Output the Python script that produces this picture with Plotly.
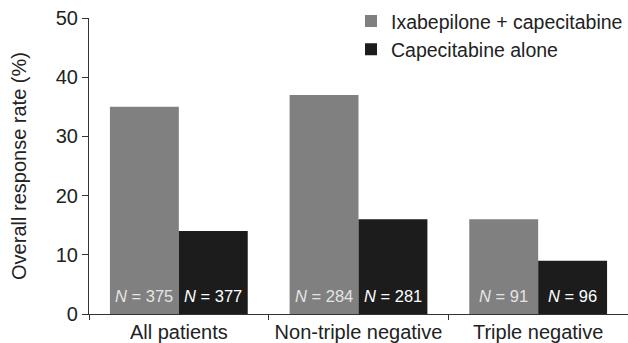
import plotly.graph_objects as go

categories = ["All patients", "Non-triple negative", "Triple negative"]
combo_vals = [35, 37, 16]
cape_vals = [14, 16, 9]
combo_n = [375, 284, 91]
cape_n = [377, 281, 96]
series_names = ["Ixabepilone + capecitabine", "Capecitabine alone"]
y_ticks = [0, 10, 20, 30, 40, 50]

FONT = "Liberation Sans, Arial, Helvetica, sans-serif"
TXT = "#222222"
fig = go.Figure()
fig.add_trace(go.Bar(x=categories, y=combo_vals, name=series_names[0],
                     marker=dict(color="#808080", line=dict(width=0))))
fig.add_trace(go.Bar(x=categories, y=cape_vals, name=series_names[1],
                     marker=dict(color="#1c1c1c", line=dict(width=0))))

W, L, R = 628, 89, 0
plot_w = W - L - R
cat_w = plot_w / len(categories)
bargap = 0.233
bar_w = cat_w * (1 - bargap) / 2

for i, c in enumerate(categories):
    for n, shift, col in ((combo_n[i], -bar_w / 2, "#e4e4e4"), (cape_n[i], bar_w / 2, "#ffffff")):
        fig.add_annotation(x=c, y=3.0, xref="x", yref="y", xshift=shift,
                           text=f"<i>N</i> = {n}", showarrow=False,
                           font=dict(size=16.5, color=col, family=FONT))

fig.update_layout(
    width=W, height=343,
    margin=dict(l=L, r=R, t=18, b=26),
    barmode="group", bargap=bargap, bargroupgap=0,
    plot_bgcolor="white", paper_bgcolor="white",
    font=dict(family=FONT, color=TXT),
    legend=dict(x=1, xanchor="right", y=1.055, yanchor="top",
                font=dict(size=19.5, color=TXT),
                bgcolor="rgba(0,0,0,0)", itemwidth=30, tracegroupgap=0),
    showlegend=True,
)
fig.update_xaxes(type="category", showline=True, linecolor="#333333", linewidth=1.2,
                 ticks="outside", tickson="boundaries", ticklen=5, tickcolor="#333333",
                 tickfont=dict(size=20, color=TXT), showgrid=False, range=[-0.5, 2.5])
fig.update_yaxes(range=[0, 50], tickvals=y_ticks, showline=True, linecolor="#333333",
                 linewidth=1.2, ticks="outside", ticklen=6, tickcolor="#333333",
                 tickfont=dict(size=20, color=TXT), showgrid=False, zeroline=False,
                 title=dict(text="Overall response rate (%)", font=dict(size=20, color=TXT), standoff=23))

fig.write_html("out.html", config={"displayModeBar": False},
               post_script="document.body.style.margin='0';document.body.style.overflow='hidden';")
